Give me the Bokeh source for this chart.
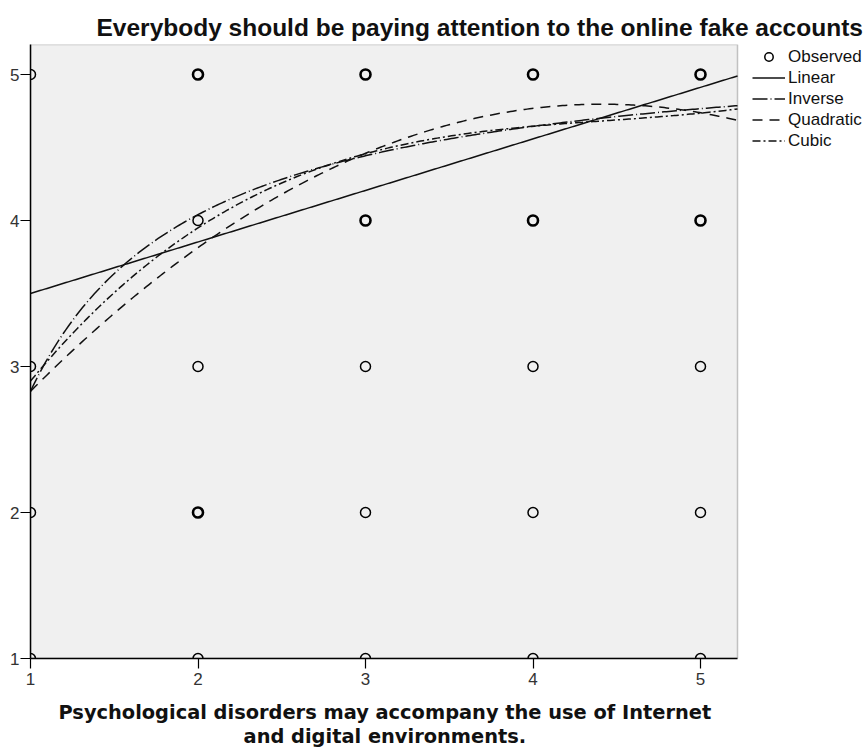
import numpy as np
from bokeh.plotting import figure
from bokeh.models import (Range1d, FixedTicker, Legend, LegendItem,
                          ColumnDataSource, BoxAnnotation)
from bokeh.embed import file_html
from bokeh.resources import INLINE

# ---- chart data -------------------------------------------------------
title_text = "Everybody should be paying attention to the online fake accounts"
x_title_lines = ["Psychological disorders may accompany the use of Internet",
                 "and digital environments."]
tick_values = [1, 2, 3, 4, 5]

# observed answer pairs (Likert 1-5); overlap marks cells with several responses
obs_x = [1, 1, 1, 1,
         2, 2, 2, 2, 2,
         3, 3, 3, 3, 3,
         4, 4, 4, 4, 4,
         5, 5, 5, 5, 5]
obs_y = [5, 3, 2, 1,
         5, 4, 3, 2, 1,
         5, 4, 3, 2, 1,
         5, 4, 3, 2, 1,
         5, 4, 3, 2, 1]
obs_overlap = [False, False, False, False,
               True, False, False, True, False,
               True, True, False, False, False,
               True, True, False, False, False,
               True, True, False, False, False]

# fitted model coefficients
linear_coef = [3.147, 0.353]                   # b0 + b1*x
inverse_coef = [5.25, -2.42]                   # b0 + b1/x
quadratic_coef = [1.508, 1.491, -0.169]        # b0 + b1*x + b2*x^2
cubic_coef = [1.088, 2.267, -0.492, 0.0369]    # b0 + b1*x + b2*x^2 + b3*x^3

# plotting area in data units; the frame runs on to the right edge so the
# legend can sit beside the grey area without being clipped
x_lo, x_edge = 1.0, 5.221
y_lo, y_hi = 1.0, 5.2055
px_per_x = 167.5
frame_w = 837
x_frame_hi = x_lo + frame_w / px_per_x

# the axis label is centred on the whole frame; pad each line on the right
# with no-break spaces so the text is centred under the grey area instead
shift_px = frame_w / 2 - (x_edge - x_lo) * px_per_x / 2
nbsp_px = 0.348 * 19.4
pad = "\u00a0" * int(round(2 * shift_px / nbsp_px))
x_title = "\n".join(line + pad for line in x_title_lines)

# ---- figure -------------------------------------------------------------
p = figure(width=867, height=750,
           x_range=Range1d(x_lo, x_frame_hi), y_range=Range1d(y_lo, y_hi),
           output_backend="svg", toolbar_location=None,
           min_border_left=30, min_border_right=0,
           min_border_top=44, min_border_bottom=92,
           background_fill_color="white", border_fill_color="white")
p.grid.visible = False
p.outline_line_color = None

p.add_layout(BoxAnnotation(left=x_lo, right=x_edge, bottom=y_lo, top=y_hi,
                           fill_color="#f0f0f0", fill_alpha=1.0,
                           line_color="#444444", line_width=1.5,
                           level="underlay"))

p.title.text = title_text
p.title.align = "left"
p.title.offset = 66
p.title.text_font = "Liberation Sans"
p.title.text_font_size = "24.5px"
p.title.text_font_style = "bold"
p.title.text_color = "#111111"
p.title.standoff = 7

for ax in (p.xaxis[0], p.yaxis[0]):
    ax.ticker = FixedTicker(ticks=tick_values)
    ax.axis_line_color = "black"
    ax.axis_line_width = 1.5
    ax.major_tick_line_color = "black"
    ax.major_tick_line_width = 1.2
    ax.major_tick_out = 10
    ax.major_tick_in = 0
    ax.minor_tick_line_color = None
    ax.major_label_text_font = "Liberation Sans"
    ax.major_label_text_font_size = "17px"
    ax.major_label_text_color = "#333333"

p.xaxis[0].bounds = (x_lo, x_edge)
p.yaxis[0].major_label_standoff = 1
p.xaxis[0].major_label_standoff = 4
p.xaxis[0].axis_label = x_title
p.xaxis[0].axis_label_text_font = "DejaVu Sans"
p.xaxis[0].axis_label_text_font_size = "19.4px"
p.xaxis[0].axis_label_text_font_style = "bold"
p.xaxis[0].axis_label_text_color = "#111111"
p.xaxis[0].axis_label_standoff = 13
p.xaxis[0].axis_label_text_line_height = 1.05

# ---- observed points --------------------------------------------------------
single = ColumnDataSource(dict(
    x=[x for x, o in zip(obs_x, obs_overlap) if not o],
    y=[y for y, o in zip(obs_y, obs_overlap) if not o]))
multi = ColumnDataSource(dict(
    x=[x for x, o in zip(obs_x, obs_overlap) if o],
    y=[y for y, o in zip(obs_y, obs_overlap) if o]))

r_obs = p.scatter("x", "y", source=single, marker="circle", size=10,
                  fill_color=None, line_color="black", line_width=1.5)
p.scatter("x", "y", source=multi, marker="circle", size=10,
          fill_color=None, line_color="black", line_width=2.6)

# ---- fitted curves ------------------------------------------------------
xs = np.linspace(x_lo, x_edge, 300)
y_lin = linear_coef[0] + linear_coef[1] * xs
y_inv = inverse_coef[0] + inverse_coef[1] / xs
y_quad = quadratic_coef[0] + quadratic_coef[1] * xs + quadratic_coef[2] * xs ** 2
y_cub = (cubic_coef[0] + cubic_coef[1] * xs + cubic_coef[2] * xs ** 2
         + cubic_coef[3] * xs ** 3)

line_kw = dict(line_color="#111111", line_width=1.5)
r_lin = p.line(xs, y_lin, **line_kw)
r_inv = p.line(xs, y_inv, line_dash="15 3 1 3", **line_kw)
r_quad = p.line(xs, y_quad, line_dash="10 7", **line_kw)
r_cub = p.line(xs, y_cub, line_dash="8 3 2 3", **line_kw)

# legend in the white strip right of the grey area
legend = Legend(items=[
    LegendItem(label="Observed", renderers=[r_obs]),
    LegendItem(label="Linear", renderers=[r_lin]),
    LegendItem(label="Inverse", renderers=[r_inv]),
    LegendItem(label="Quadratic", renderers=[r_quad]),
    LegendItem(label="Cubic", renderers=[r_cub]),
], location=(722, 507))
legend.border_line_color = None
legend.background_fill_alpha = 0
legend.margin = 0
legend.padding = 2
legend.spacing = 0
legend.glyph_width = 33
legend.glyph_height = 21
legend.label_height = 21
legend.label_standoff = 3
legend.label_text_font = "Liberation Sans"
legend.label_text_font_size = "17px"
legend.label_text_color = "#111111"
p.add_layout(legend, "center")

open("out.html", "w").write(file_html(p, INLINE))
